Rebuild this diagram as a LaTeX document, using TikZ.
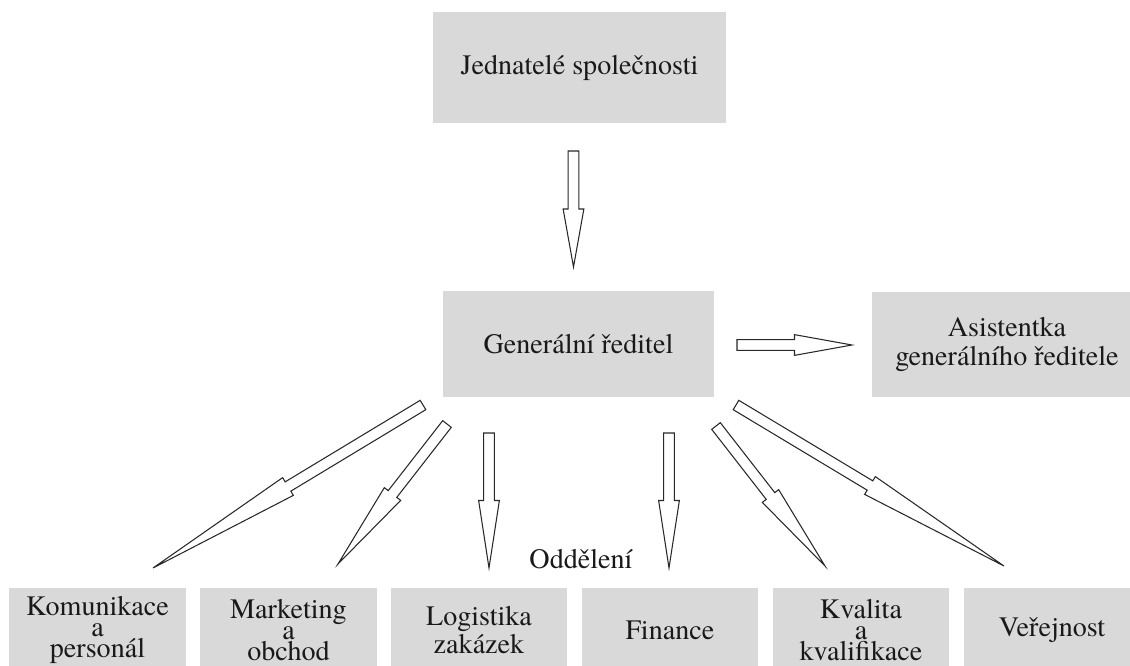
\documentclass[tikz,border=0pt]{standalone}
\usepackage{fontspec}
\setmainfont{TeX Gyre Termes}
\usetikzlibrary{calc}
\definecolor{boxgray}{RGB}{217,217,217}
\definecolor{linegray}{RGB}{40,40,40}
\definecolor{textgray}{RGB}{25,25,25}

\begin{document}
\begin{tikzpicture}[x=0.02cm,y=-0.02cm]
    \tikzset{unit/.style={rectangle,fill=boxgray,inner sep=0pt,align=center,text=textgray,font=\fontsize{16}{16}\selectfont}}
    \tikzset{dept/.style={unit,minimum width=3.54cm,minimum height=1.68cm,font=\fontsize{16}{11.8}\selectfont}}
    \tikzset{heading/.style={inner sep=0pt,text=textgray,font=\fontsize{16}{16}\selectfont}}
    \tikzset{blockarrow/.style={draw=linegray,fill=white,line width=0.6pt,
      to path={-- ($(\tikztostart)!3.1pt!90:(\tikztotarget)$)
               -- ($(\tikztostart)!0.5!(\tikztotarget)!3.1pt!90:(\tikztotarget)$)
               -- ($(\tikztostart)!0.5!(\tikztotarget)!5.9pt!90:(\tikztotarget)$)
               -- (\tikztotarget)
               -- ($(\tikztostart)!0.5!(\tikztotarget)!5.9pt!-90:(\tikztotarget)$)
               -- ($(\tikztostart)!0.5!(\tikztotarget)!3.1pt!-90:(\tikztotarget)$)
               -- ($(\tikztostart)!3.1pt!-90:(\tikztotarget)$) -- cycle}}}
    \useasboundingbox (0,0) rectangle (1130,666);
    \clip (0,0) rectangle (1130,666);
    \draw (579.5,67.5) node[unit,minimum width=5.86cm,minimum height=2.22cm](jed){Jednatelé společnosti};
    \draw (578.5,344) node[unit,minimum width=5.42cm,minimum height=2.12cm](gen){Generální ředitel};
    \draw (1007,344.5) node[unit,minimum width=5.4cm,minimum height=2.1cm](asi){Asistentka\\generálního ředitele};
    \draw (97.5,630) node[dept](kom){Komunikace\\a\\personál};
    \draw (288.5,630) node[dept](mar){Marketing\\a\\obchod};
    \draw (479,630) node[dept](log){Logistika\\zakázek};
    \draw (670,630) node[dept](fin){Finance};
    \draw (861,630) node[dept](kva){Kvalita\\a\\kvalifikace};
    \draw (1052,630) node[dept](ver){Veřejnost};
    \draw (581,559) node[heading](odd){Oddělení};
    % arrow ends
    \coordinate (s1) at (573.5,151); \coordinate (e1) at (573.5,267);
    \coordinate (s2) at (737,345);   \coordinate (e2) at (852,345);
    \coordinate (s3) at (423,405);   \coordinate (e3) at (153,568);
    \coordinate (s4) at (447,424);   \coordinate (e4) at (338,564);
    \coordinate (s5) at (489,433);   \coordinate (e5) at (489,568);
    \coordinate (s6) at (669,433);   \coordinate (e6) at (669,568);
    \coordinate (s7) at (716,426);   \coordinate (e7) at (825,566);
    \coordinate (s8) at (736,405);   \coordinate (e8) at (1004,566);
    \draw[blockarrow](s1) to (e1);
    \draw[blockarrow](s2) to (e2);
    \draw[blockarrow](s3) to (e3);
    \draw[blockarrow](s4) to (e4);
    \draw[blockarrow](s5) to (e5);
    \draw[blockarrow](s6) to (e6);
    \draw[blockarrow](s7) to (e7);
    \draw[blockarrow](s8) to (e8);
\end{tikzpicture}
\end{document}
